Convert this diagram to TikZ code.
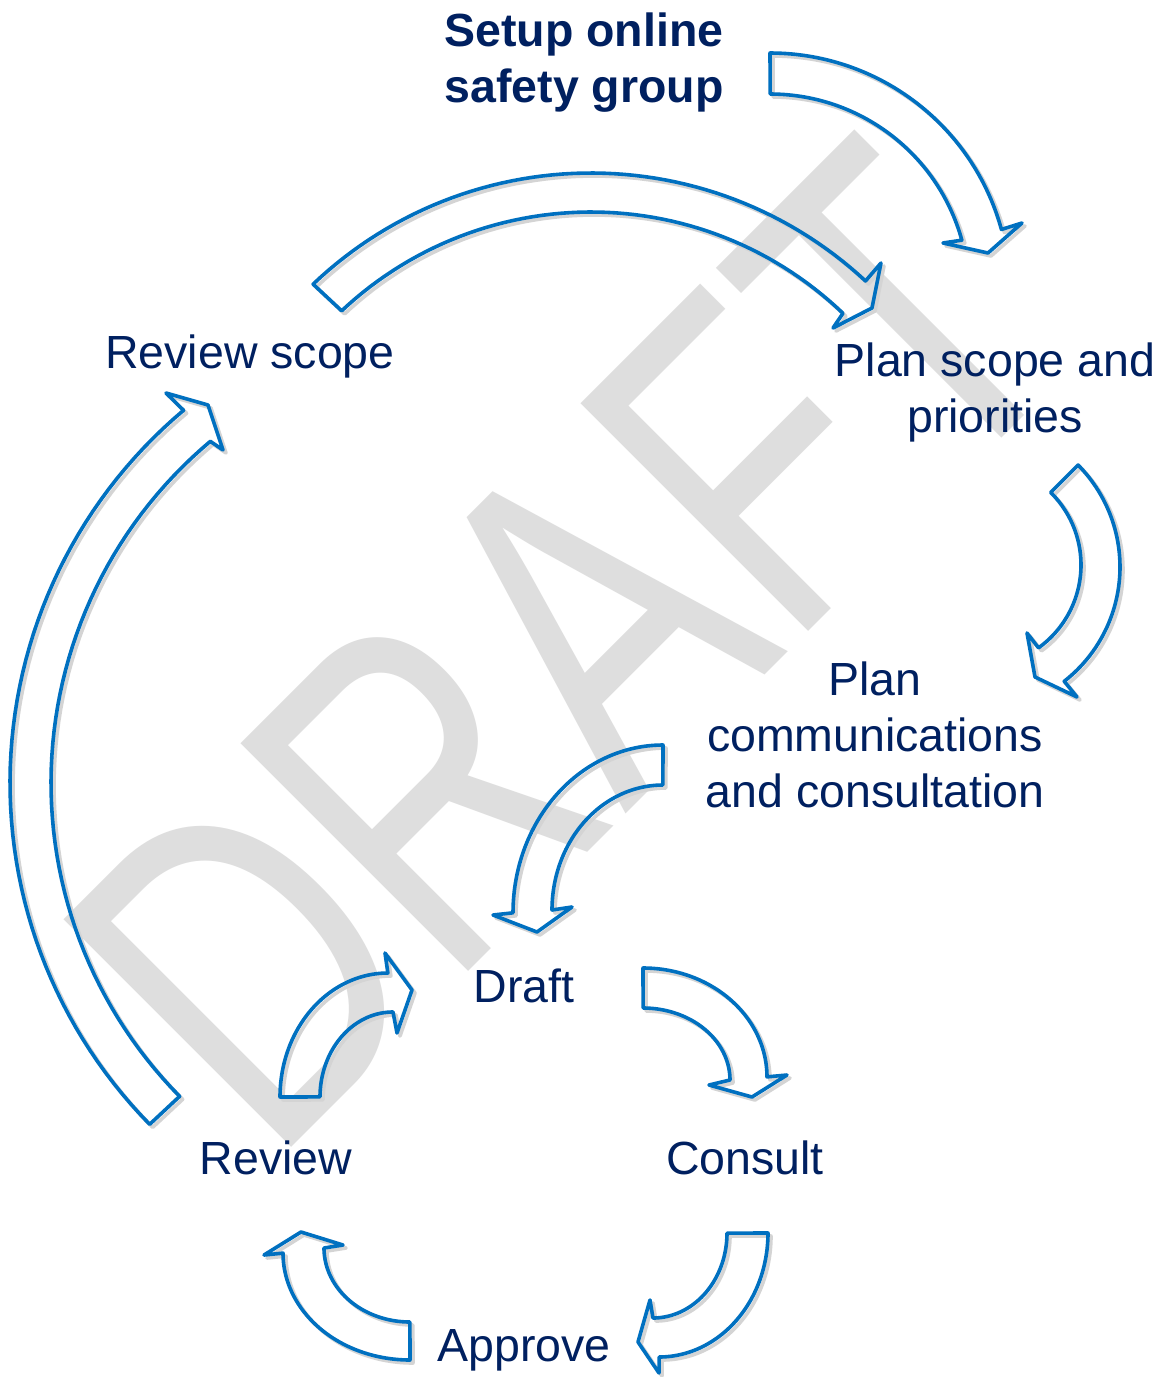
\documentclass[tikz,border=0pt]{standalone}
\usepackage{fontspec}
\setmainfont{Liberation Sans}
\usepackage{graphicx}
\definecolor{arrowblue}{RGB}{0,112,192}
\definecolor{navy}{RGB}{0,32,96}
\definecolor{wmgray}{RGB}{222,222,222}
\definecolor{shadowgray}{RGB}{212,212,212}
\begin{document}
\begin{tikzpicture}[x=1pt,y=-1pt,
  arcplot/.style={domain=0:1,samples=60,variable=\myt},
  barrow/.style={draw=arrowblue,line width=3.6pt,line join=round,
    preaction={draw=shadowgray,line width=3.6pt,line join=round,
      transform canvas={shift={(3pt,-3pt)}}}},
  lbl/.style={inner sep=0pt,text=navy,align=center,
    font=\fontsize{46.5}{56}\selectfont},
  wm/.style={inner sep=0pt,rotate=45,text=wmgray,
    font=\fontsize{468}{468}\selectfont}]
\useasboundingbox (0,0) rectangle (1165,1377);
\fill[white] (0,0) rectangle (1165,1377);

% watermark
\node[wm] (watermark) at (566,646) {\scalebox{0.74}[1]{DRAFT}};

% A1 Setup -> Plan scope
\draw[barrow] plot[arcplot] ({770+240*cos(-90+74.7*\myt)},{293+240*sin(-90+74.7*\myt)})
  -- (1022,223) -- (988,253) -- (943,243)
  -- plot[arcplot] ({770+199*cos(-15.4-74.6*\myt)},{293+199*sin(-15.4-74.6*\myt)}) -- cycle;

% A2 Review scope -> Plan scope (top arc)
\draw[barrow] plot[arcplot] ({591+403*cos(226.4+86.6*\myt)},{576+403*sin(226.4+86.6*\myt)})
  -- (881,263) -- (872,308) -- (833,328)
  -- plot[arcplot] ({591+364*cos(313.8-87.1*\myt)},{576+364*sin(313.8-87.1*\myt)}) -- cycle;

% A3 Plan scope -> Plan communications
\draw[barrow] plot[arcplot] ({975+145*cos(-44.7+96.8*\myt)},{567+145*sin(-44.7+96.8*\myt)})
  -- (1077,697) -- (1035,677) -- (1027,633)
  -- plot[arcplot] ({979+102*cos(54.3-99.7*\myt)},{565+102*sin(54.3-99.7*\myt)}) -- cycle;

% A4 Plan communications -> Draft
\draw[barrow] plot[arcplot] ({663+150*cos(270-90*\myt)},{913+168*sin(270-90*\myt)})
  -- (493,915) -- (537,932) -- (572,907)
  -- plot[arcplot] ({663+111*cos(180+90*\myt)},{910+125*sin(180+90*\myt)}) -- cycle;

% A5 Review -> Draft
\draw[barrow] plot[arcplot] ({388+108*cos(180+90*\myt)},{1097+124*sin(180+90*\myt)})
  -- (385,953) -- (412,990) -- (397,1033)
  -- plot[arcplot] ({393+73*cos(270-90*\myt)},{1097+85*sin(270-90*\myt)}) -- cycle;

% A6 Draft -> Consult
\draw[barrow] plot[arcplot] ({643+124*cos(270+90*\myt)},{1077+109*sin(270+90*\myt)})
  -- (787,1075) -- (752,1097) -- (709,1085)
  -- plot[arcplot] ({643+87*cos(360-90*\myt)},{1080+72*sin(360-90*\myt)}) -- cycle;

% A7 Consult -> Approve
\draw[barrow] plot[arcplot] ({659+109*cos(90*\myt)},{1233+124*sin(90*\myt)})
  -- (659,1373) -- (638,1342) -- (650,1300)
  -- plot[arcplot] ({653+74*cos(90-90*\myt)},{1233+85*sin(90-90*\myt)}) -- cycle;

% A8 Approve -> Review
\draw[barrow] plot[arcplot] ({410+127*cos(90+90*\myt)},{1253+107*sin(90+90*\myt)})
  -- (264,1255) -- (301,1232) -- (343,1245)
  -- plot[arcplot] ({410+86*cos(180-90*\myt)},{1248+74*sin(180-90*\myt)}) -- cycle;

% A9 Review -> Review scope (big left arc)
\draw[barrow] plot[arcplot] ({497+487*cos(135.5+94.5*\myt)},{783+487*sin(135.5+94.5*\myt)})
  -- (166,393) -- (208,405) -- (223,450)
  -- plot[arcplot] ({497+446*cos(230-94.7*\myt)},{783+446*sin(230-94.7*\myt)}) -- cycle;

% labels
\node[lbl,font=\fontsize{46.5}{56}\selectfont\bfseries] (setup) at (584,63) {Setup online\\safety group};
\node[lbl,anchor=base] (reviewscope) at (250,368) {Review scope};
\node[lbl] (planscope) at (995,392) {Plan scope and\\priorities};
\node[lbl] (plancomm) at (875,735) {Plan\\communications\\and consultation};
\node[lbl,anchor=base] (draft) at (524,1002) {Draft};
\node[lbl,anchor=base] (review) at (276,1174) {Review};
\node[lbl,anchor=base] (consult) at (745,1174) {Consult};
\node[lbl,anchor=base] (approve) at (524,1361) {Approve};
\end{tikzpicture}
\end{document}
